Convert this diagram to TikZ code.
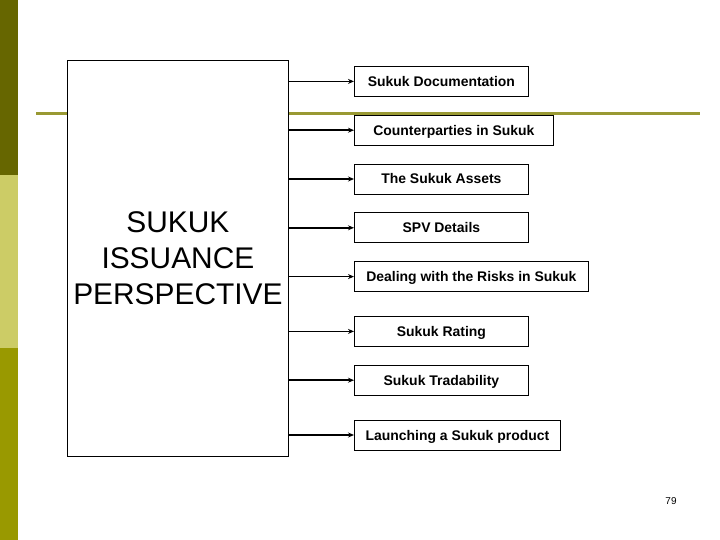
\documentclass[tikz,border=0pt]{standalone}
\usepackage{fontspec}
\setmainfont{Liberation Sans}
\usetikzlibrary{positioning, arrows.meta}

\definecolor{barDark}{HTML}{666600}
\definecolor{barLight}{HTML}{CCCC66}
\definecolor{barMid}{HTML}{999900}
\definecolor{ruleOlive}{HTML}{999933}

\begin{document}
\begin{tikzpicture}[
  x=1bp, y=-1bp,
  node distance=18bp,
  perspective/.style={
    draw=black, fill=white, line width=0.8bp,
    minimum width=221bp, minimum height=396bp, align=center,
    font=\fontsize{30}{36}\selectfont
  },
  topic/.style={
    draw=black, fill=white, line width=0.8bp, inner xsep=3bp,
    minimum width=174bp, minimum height=30bp,
    text height=10bp, text depth=0bp,
    font=\fontsize{14}{16}\selectfont\bfseries
  },
  arrow/.style={-{Stealth[length=6bp, width=5bp]}, line width=1.6bp},
]
\useasboundingbox (0,0) rectangle (720,540);

% Side bars and olive rule
\fill[barDark]  (0,0)   rectangle (18,175);
\fill[barLight] (0,175) rectangle (18,348);
\fill[barMid]   (0,348) rectangle (18,540);
\draw[ruleOlive, line width=3bp] (36,114) -- (700,114);

% Main box
\node[perspective, anchor=north west] (sukuk) at (67,60) {SUKUK\\ISSUANCE\\PERSPECTIVE};

% Topics, stacked down the right side
\node[topic, anchor=north west] (docs) at (354,66) {Sukuk Documentation};
\node[topic, minimum width=199bp, below=of docs.south west, anchor=north west] (parties) {Counterparties in Sukuk};
\node[topic, below=of parties.south west, anchor=north west] (assets) {The Sukuk Assets};
\node[topic, below=of assets.south west, anchor=north west] (spv) {SPV Details};
\node[topic, minimum width=234bp, below=of spv.south west, anchor=north west] (risks) {Dealing with the Risks in Sukuk};
\node[topic, below=24bp of risks.south west, anchor=north west] (rating) {Sukuk Rating};
\node[topic, below=of rating.south west, anchor=north west] (trade) {Sukuk Tradability};
\node[topic, minimum width=206bp, below=24bp of trade.south west, anchor=north west] (launch) {Launching a Sukuk product};

% Arrows from the main box
\foreach \t in {docs, parties, assets, spv, risks, rating, trade, launch}
  \draw[arrow] (sukuk.east |- \t.west) -- (\t.west);

% Page number
\node[font=\fontsize{10}{12}\selectfont] (page) at (671,501) {79};

\end{tikzpicture}
\end{document}
